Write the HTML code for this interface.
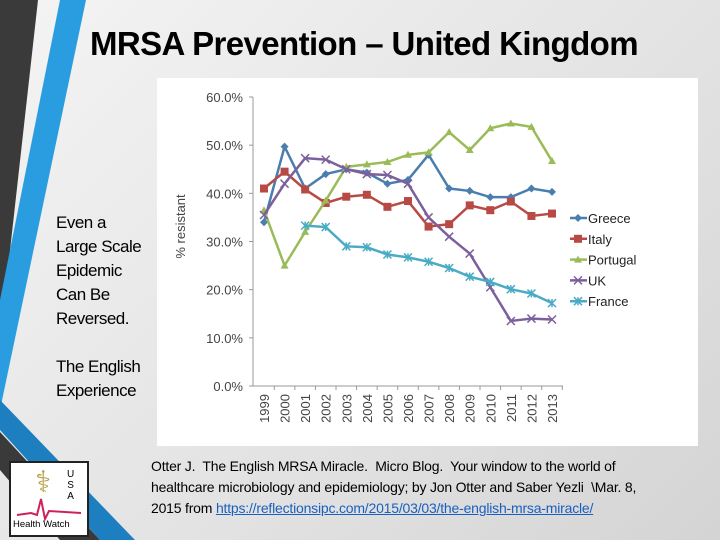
<!DOCTYPE html>
<html><head><meta charset="utf-8"><style>
body{margin:0;width:720px;height:540px;overflow:hidden;font-family:"Liberation Sans",sans-serif}
#slide{position:relative;width:720px;height:540px;background:linear-gradient(135deg,#f4f4f4 0%,#e2e2e2 60%,#d4d4d4 100%)}
.t{position:absolute;color:#000}
</style></head><body>
<div id="slide">
<svg width="720" height="540" style="position:absolute;left:0;top:0">
<polygon points="0,0 38,0 0,340" fill="#3a3a3a"/>
<polygon points="60,0 86,0 0,410 0,300" fill="#2a9de0"/>
<polygon points="0,400 0,430 100,540 135,540" fill="#1e7fc0"/>
<polygon points="0,432 0,470 60,540 100,540" fill="#3a3a3a"/>
</svg>
<div class="t" style="left:90px;top:25px;font-size:33px;font-weight:bold;letter-spacing:-0.6px;white-space:nowrap">MRSA Prevention – United Kingdom</div>
<div class="t" style="left:56px;top:211px;font-size:17px;line-height:24px;letter-spacing:-0.5px">Even a<br>Large Scale<br>Epidemic<br>Can Be<br>Reversed.<br><br>The English<br>Experience</div>
<svg id="chart" width="541" height="368" style="position:absolute;left:157px;top:78px;background:#fff"></svg>
<div style="position:absolute;left:9px;top:461px;width:76px;height:72px;background:#fff;border:2px solid #222">
<div style="position:absolute;left:56px;top:6px;font-size:10px;line-height:11px;text-align:center">U<br>S<br>A</div>
<div style="position:absolute;left:24px;top:2px;font-size:30px;color:#b8a04a">⚕</div>
<svg width="76" height="72" style="position:absolute;left:0;top:0"><polyline points="6,52 20,50 26,52 30,36 34,56 38,48 70,50" fill="none" stroke="#d0205a" stroke-width="2"/></svg>
<div style="position:absolute;left:2px;top:56px;font-size:9.5px;white-space:nowrap">Health Watch</div>
</div>
<div class="t" style="left:151px;top:456px;font-size:14px;line-height:21px;white-space:nowrap;letter-spacing:-0.2px">Otter J.&nbsp; The English MRSA Miracle.&nbsp; Micro Blog.&nbsp; Your window to the world of<br>healthcare microbiology and epidemiology; by Jon Otter and Saber Yezli&nbsp; \Mar. 8,<br>2015 from <a style="color:#1a5fc0;text-decoration:underline">https://reflectionsipc.com/2015/03/03/the-english-mrsa-miracle/</a> </div>
</div>
<script>
const years=['1999','2000','2001','2002','2003','2004','2005','2006','2007','2008','2009','2010','2011','2012','2013'];
const yTicks=[0,10,20,30,40,50,60];
const seriesNames=['Greece','Italy','Portugal','UK','France'];
const greece=[34,49.7,41,44,45,44.3,42,42.8,48,41,40.5,39.2,39.2,41,40.3];
const italy=[41,44.5,40.8,38,39.3,39.7,37.2,38.4,33.1,33.6,37.5,36.5,38.3,35.3,35.8];
const portugal=[36.5,25,32,38.5,45.5,46,46.5,48,48.5,52.7,49,53.5,54.5,53.8,46.7];
const uk=[35.5,42,47.3,47,45,44,43.8,42,35,31,27.5,20.5,13.5,14,13.8];
const france=[null,null,33.3,33,29,28.8,27.3,26.7,25.8,24.5,22.7,21.6,20.1,19.2,17.2];
const colors=['#4a7eae','#b84a45','#9bbb59','#7d5f9c','#4aabc5'];
const marks=['diamond','square','triangle','x','star'];
const NS='http://www.w3.org/2000/svg';
const svg=document.getElementById('chart');
const x0=107,x1=395,yTop=19,yBot=308;
function xs(i){return x0+(x1-x0)*i/(years.length-1);}
function ys(v){return yBot-(yBot-yTop)*v/60;}
function mk(t,a,p){const e=document.createElementNS(NS,t);for(const k in a)e.setAttribute(k,a[k]);(p||svg).appendChild(e);return e;}
const ax=mk('line',{x1:96,y1:yTop,x2:96,y2:yBot,stroke:'#999'});


const bx=mk('line',{x1:96,y1:yBot,x2:406,y2:yBot,stroke:'#999'});


yTicks.forEach(v=>{
 mk('line',{x1:92,y1:ys(v),x2:96,y2:ys(v),stroke:'#999'});
 const t=mk('text',{x:86,y:ys(v)+5,'text-anchor':'end','font-size':13,fill:'#444'});
 t.textContent=v.toFixed(1)+'%';
 
 
});
years.forEach((y,i)=>{
 mk('line',{x1:xs(i)+10.3,y1:yBot,x2:xs(i)+10.3,y2:yBot+4,stroke:'#999'});
 const t=mk('text',{x:0,y:0,'text-anchor':'end','font-size':13,fill:'#444',transform:`translate(${xs(i)+5},${yBot+8}) rotate(-90)`});
 t.textContent=y;
 
 
});
const yt=mk('text',{x:0,y:0,'text-anchor':'middle','font-size':13,fill:'#444',transform:`translate(28,${(yTop+yBot)/2-15}) rotate(-90)`});
yt.textContent='% resistant';


function marker(g,kind,x,y,c){
 if(kind==='diamond')mk('polygon',{points:`${x},${y-4} ${x+4},${y} ${x},${y+4} ${x-4},${y}`,fill:c},g);
 else if(kind==='square')mk('rect',{x:x-4,y:y-4,width:8,height:8,fill:c},g);
 else if(kind==='triangle')mk('polygon',{points:`${x},${y-4} ${x+4},${y+3} ${x-4},${y+3}`,fill:c},g);
 else {mk('path',{d:`M${x-4},${y-4}L${x+4},${y+4}M${x-4},${y+4}L${x+4},${y-4}`+(kind==='star'?`M${x},${y-4}V${y+4}`:''),stroke:c,'stroke-width':1.5},g);}
}
[greece,italy,portugal,uk,france].forEach((data,s)=>{
 const g=mk('g',{});
 
 
 const pts=[];data.forEach((v,i)=>{if(v!==null)pts.push(xs(i)+','+ys(v));});
 mk('polyline',{points:pts.join(' '),fill:'none',stroke:colors[s],'stroke-width':2.5},g);
 data.forEach((v,i)=>{if(v!==null)marker(g,marks[s],xs(i),ys(v),colors[s]);});
 const ly=140+s*20.8;
 const lg=mk('g',{});
 
 
 mk('line',{x1:413,y1:ly,x2:430,y2:ly,stroke:colors[s],'stroke-width':2.5},lg);
 marker(lg,marks[s],421,ly,colors[s]);
 const t=mk('text',{x:431,y:ly+5,'font-size':13,fill:'#222'},lg);
 t.textContent=seriesNames[s];
});
</script>
</body></html>
